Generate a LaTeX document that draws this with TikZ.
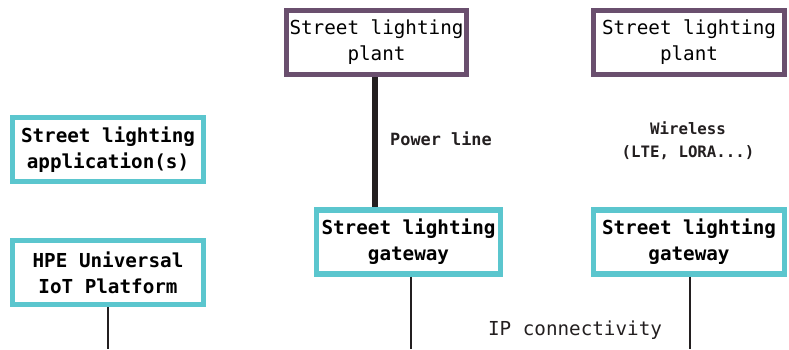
\documentclass[tikz,border=0pt]{standalone}
\usepackage{fontspec}
\setmonofont{DejaVu Sans Mono}
\usetikzlibrary{positioning,calc}
\definecolor{plantcol}{HTML}{6A4F6E}
\definecolor{gatecol}{HTML}{5BC6CE}
\definecolor{linecol}{HTML}{231F20}

\begin{document}
\begin{tikzpicture}[
  x=0.025cm, y=-0.025cm,
  box/.style={rectangle, draw, line width=3.6pt, fill=white, minimum width=4.775cm,
    minimum height=1.6cm, align=center, inner sep=0pt,
    font=\ttfamily\fontsize{13.7}{18.5}\selectfont},
  plantbox/.style={box, draw=plantcol},
  gatebox/.style={box, draw=gatecol, font=\ttfamily\bfseries\fontsize{13.7}{18.5}\selectfont},
  link/.style={draw=linecol, line width=2.1pt},
  label/.style={align=center, text=linecol, inner sep=0pt}
]
  \useasboundingbox (0,0) rectangle (789,349);
  \node[plantbox, minimum width=4.5cm] (plant1) at (376.5,42.5) {Street lighting\\plant};
  \node[plantbox] (plant2) at (689,42.5) {Street lighting\\plant};
  \node[gatebox] (app) at (108,149.5) {Street lighting\\application(s)};
  \node[gatebox] (hpe) at (108,272.5) {HPE Universal\\IoT Platform};
  \node[gatebox, minimum width=4.6cm] (gw1) at (408.5,242) {Street lighting\\gateway};
  \node[gatebox] (gw2) at (689,242) {Street lighting\\gateway};
  \coordinate (hpeend) at (108,349);
  \coordinate (gw1end) at (411,349);
  \coordinate (gw2end) at (690,349);
  \node[label, font=\ttfamily\bfseries\fontsize{12}{14}\selectfont] (power) at (441,139) {Power line};
  \node[label, font=\ttfamily\bfseries\fontsize{11.2}{16.4}\selectfont] (wireless) at (688,141) {Wireless\\(LTE, LORA...)};
  \node[label, font=\ttfamily\fontsize{13.7}{16}\selectfont] (ip) at (575,330) {IP connectivity};
  \draw[link, line width=3.6pt] ([xshift=-1.5*0.025cm]plant1.south) -- ([xshift=-1.5*0.025cm]plant1.south |- gw1.north);
  \draw[link] (hpe.south) -- (hpeend);
  \draw[link] (gw1.south -| gw1end) -- (gw1end);
  \draw[link] (gw2.south -| gw2end) -- (gw2end);
\end{tikzpicture}
\end{document}
